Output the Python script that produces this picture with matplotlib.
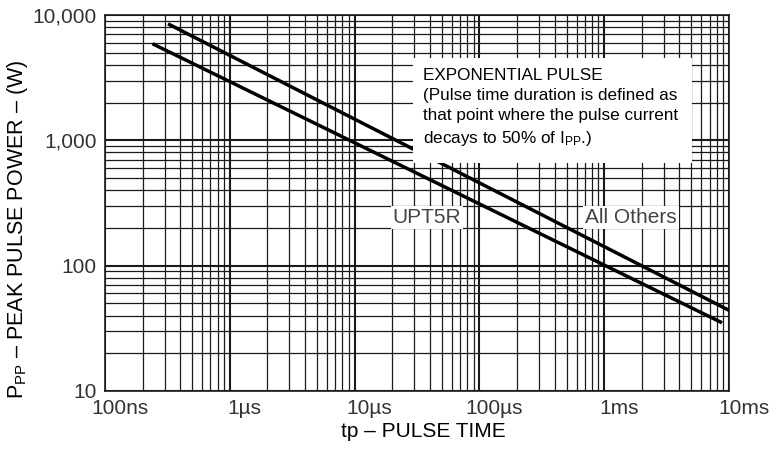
import numpy as np
import matplotlib
matplotlib.use('Agg')
import matplotlib.pyplot as plt
import matplotlib.transforms as mtransforms
from matplotlib.patches import Rectangle

plt.rcParams['font.family'] = ['Liberation Sans', 'DejaVu Sans']
plt.rcParams['mathtext.fontset'] = 'custom'
plt.rcParams['mathtext.rm'] = 'Liberation Sans'
plt.rcParams['mathtext.it'] = 'Liberation Sans'

# Curve end points (pulse time in s, power in W)
t_upt5r = [2.4e-7, 8.8e-3]
p_upt5r = [5900, 35]
t_others = [3.2e-7, 1.0e-2]
p_others = [8500, 44]

x_ticks = [1e-7, 1e-6, 1e-5, 1e-4, 1e-3, 1e-2]
x_labels = ['100ns', '1µs', '10µs', '100µs', '1ms', '10ms']
y_ticks = [10, 100, 1000, 10000]
y_labels = ['10', '100', '1,000', '10,000']

fig = plt.figure(figsize=(7.8, 4.49), dpi=100)
ax = fig.add_axes([0.1346, 0.1292, 0.8, 0.8374])

ax.set_xscale('log')
ax.set_yscale('log')
ax.set_xlim(1e-7, 1e-2)
ax.set_ylim(10, 10000)

# Curves
ax.plot(t_others, p_others, color='black', linewidth=2.5, solid_capstyle='butt', zorder=3)
ax.plot(t_upt5r, p_upt5r, color='black', linewidth=2.5, solid_capstyle='butt', zorder=3)

# Log grid, major and minor
ax.grid(True, which='major', color='#1a1a1a', linewidth=1.5, zorder=1)
ax.grid(True, which='minor', color='#1a1a1a', linewidth=0.9, zorder=1)
ax.set_axisbelow(True)

ax.set_xticks(x_ticks)
ax.set_xticklabels(x_labels)
ax.set_yticks(y_ticks)
ax.set_yticklabels(y_labels)
ax.tick_params(which='both', length=0)
ax.tick_params(axis='x', pad=6, labelsize=15, labelcolor='#333333')
ax.tick_params(axis='y', pad=6, labelsize=15, labelcolor='#333333')

# tick labels in the source sit a little right of the decade lines
offset = mtransforms.ScaledTranslation(0.15, 0, fig.dpi_scale_trans)
for lab in ax.get_xticklabels():
    lab.set_transform(lab.get_transform() + offset)

for s in ax.spines.values():
    s.set_color('#1a1a1a')
    s.set_linewidth(1.2)

ax.set_xlabel('tp – PULSE TIME', fontsize=15, color='black')
ax.xaxis.set_label_coords(0.51, -0.082)
ax.set_ylabel(r'P$_{\mathrm{PP}}$ – PEAK PULSE POWER – (W)', fontsize=15.5, color='black')
ax.yaxis.set_label_coords(-0.12, 0.43)

# Annotation box
ax.add_patch(Rectangle((0.494, 0.606), 0.447, 0.28, transform=ax.transAxes,
                       facecolor='white', edgecolor='none', zorder=4))
box_lines = ['EXPONENTIAL PULSE',
             '(Pulse time duration is defined as',
             'that point where the pulse current',
             r'decays to 50% of I$_{\mathrm{PP}}$.)']
ax.text(0.510, 0.858, '\n'.join(box_lines), transform=ax.transAxes,
        fontsize=12.3, color='black', va='top', ha='left', linespacing=1.42, zorder=5)

# Curve labels
lbl_box = dict(facecolor='white', edgecolor='none', pad=1.5)
ax.text(0.516, 0.462, 'UPT5R', transform=ax.transAxes, fontsize=15,
        color='#444444', ha='center', va='center', bbox=lbl_box, zorder=5)
ax.text(0.843, 0.462, 'All Others', transform=ax.transAxes, fontsize=15,
        color='#444444', ha='center', va='center', bbox=lbl_box, zorder=5)

fig.savefig('out.png', dpi=100)
